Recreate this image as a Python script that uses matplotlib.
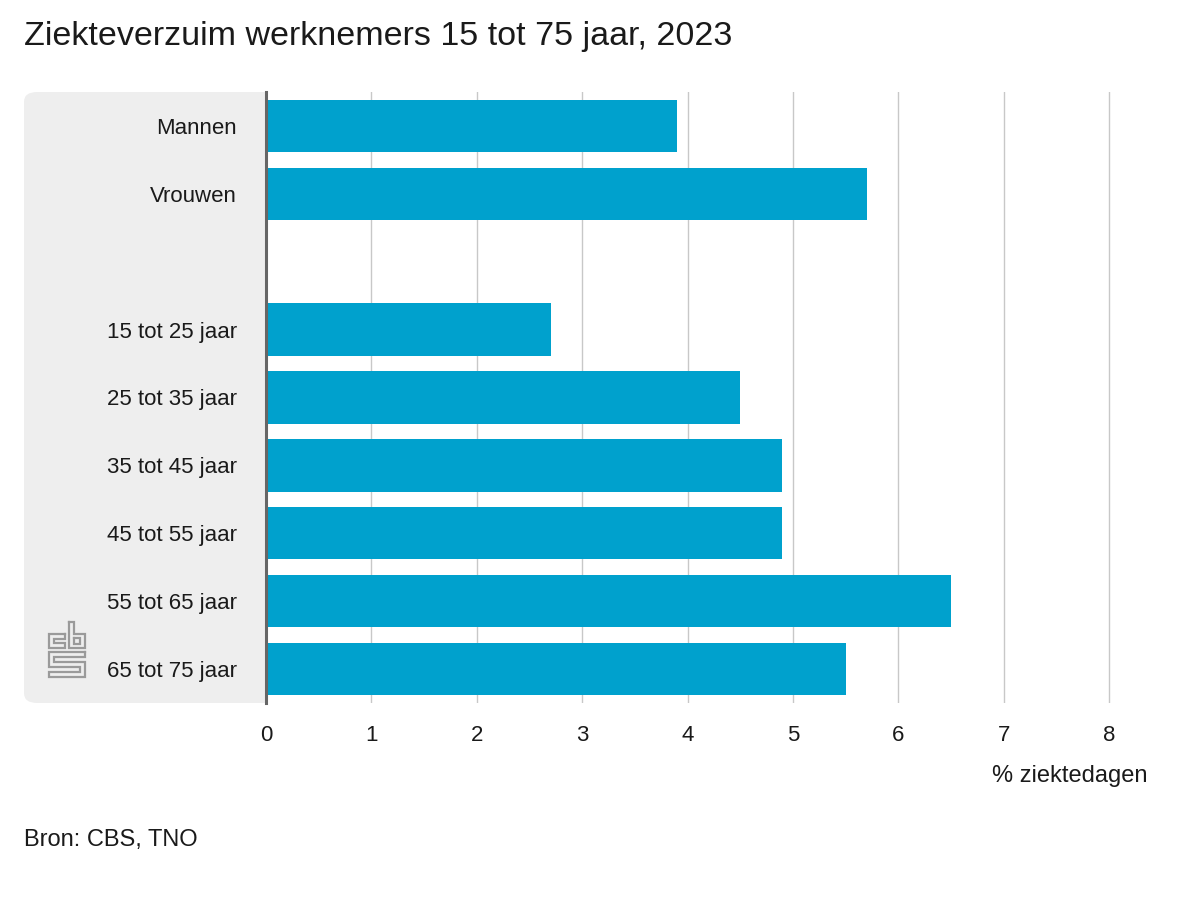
import matplotlib.pyplot as plt
from matplotlib.patches import FancyBboxPatch
from matplotlib.lines import Line2D
import numpy as np

plt.rcParams['font.family'] = ['Liberation Sans', 'DejaVu Sans']

# data (% ziektedagen)
geslacht = ['Mannen', 'Vrouwen']
geslacht_waarden = [3.9, 5.7]
leeftijd = ['15 tot 25 jaar', '25 tot 35 jaar', '35 tot 45 jaar',
            '45 tot 55 jaar', '55 tot 65 jaar', '65 tot 75 jaar']
leeftijd_waarden = [2.7, 4.5, 4.9, 4.9, 6.5, 5.5]
xticks = [0, 1, 2, 3, 4, 5, 6, 7, 8]

blauw = '#00A1CD'
W, H = 1200, 900

fig = plt.figure(figsize=(12, 9), dpi=100)
# axes a little wider than 8 so the last gridline is not clipped
ax = fig.add_axes([266 / W, 1 - 703 / H, (1112 - 266) / W, (703 - 92) / H])

# one empty slot between the two groups
labels = geslacht + [''] + leeftijd
values = geslacht_waarden + [np.nan] + leeftijd_waarden
ypos = np.arange(len(labels))
ax.barh(ypos, values, height=0.77, color=blauw, zorder=3)

ax.set_yticks(ypos)
ax.set_yticklabels(labels)
ax.set_ylim(len(labels) - 0.5, -0.5)
ax.set_xlim(0, (1112 - 266) / 105.375)
ax.set_xticks(xticks)
ax.tick_params(axis='both', length=0, labelsize=16, colors='#1a1a1a')
ax.tick_params(axis='y', pad=21)
ax.tick_params(axis='x', pad=16)
ax.grid(axis='x', color='#c8c8c8', linewidth=1, zorder=0)
for s in ['top', 'right', 'bottom']:
    ax.spines[s].set_visible(False)
ax.spines['left'].set_color('#666666')
ax.spines['left'].set_linewidth(2.2)
ax.spines['left'].set_zorder(4)

# grey panel behind the labels (right part hidden by the axes)
panel = FancyBboxPatch((24 / W, 1 - 703 / H), 280 / W, (703 - 92) / H,
                       boxstyle='round,pad=0,rounding_size=0.011',
                       transform=fig.transFigure, facecolor='#eeeeee',
                       edgecolor='none', zorder=-1)
fig.add_artist(panel)

# CBS logo (rough line drawing)
logo = [
    [(17, 12), (1, 12), (1, 26), (17, 26), (17, 21), (6, 21), (6, 17), (17, 17), (17, 12)],
    [(21, 0), (21, 26), (37, 26), (37, 12), (26, 12), (26, 0), (21, 0)],
    [(26, 16), (32, 16), (32, 22), (26, 22), (26, 16)],
    [(37, 30), (1, 30), (1, 45), (32, 45), (32, 50), (1, 50), (1, 55),
     (37, 55), (37, 40), (6, 40), (6, 35), (37, 35), (37, 30)],
]
x0, y0 = 48, 622
for pts in logo:
    xs = [(x0 + p[0]) / W for p in pts]
    ys = [1 - (y0 + p[1]) / H for p in pts]
    fig.add_artist(Line2D(xs, ys, transform=fig.transFigure, color='#9a9a9a',
                          linewidth=1.6, solid_joinstyle='miter'))

fig.text(24 / W, 1 - 36 / H, 'Ziekteverzuim werknemers 15 tot 75 jaar, 2023',
         fontsize=24.5, ha='left', va='center', color='#1a1a1a')
fig.text(1147 / W, 1 - 776 / H, '% ziektedagen', fontsize=17,
         ha='right', va='center', color='#1a1a1a')
fig.text(24 / W, 1 - 840 / H, 'Bron: CBS, TNO', fontsize=17,
         ha='left', va='center', color='#1a1a1a')

plt.savefig('out.png', dpi=100)
plt.close()
